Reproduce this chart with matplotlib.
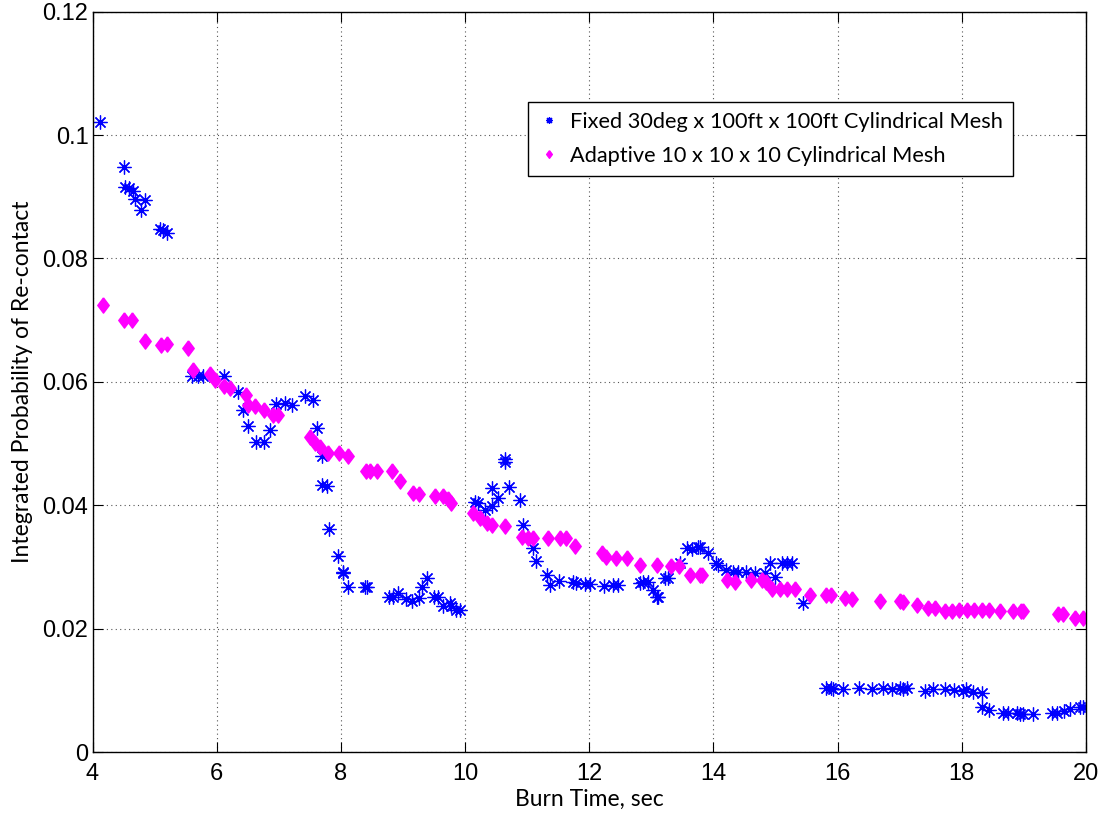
import numpy as np
import matplotlib.pyplot as plt

plt.rcParams['font.family'] = ['Lato', 'DejaVu Sans']

# Fixed 30deg x 100ft x 100ft mesh (blue stars)
fixed_t = [4.12, 4.51, 4.52, 4.59, 4.65, 4.68, 4.85, 4.78, 5.09, 5.13, 5.20,
           5.60, 5.70, 5.78, 6.11, 6.35, 6.42, 6.51, 6.64, 6.76, 6.85, 6.96,
           7.10, 7.21, 7.42, 7.55, 7.62, 7.69, 7.69, 7.77, 7.81, 7.96, 8.03,
           8.03, 8.12, 8.39, 8.42, 8.78, 8.84, 8.92, 9.05, 9.14, 9.25, 9.30,
           9.39, 9.50, 9.57, 9.65, 9.76, 9.78, 9.85, 9.92,
           10.16, 10.21, 10.32, 10.43, 10.44, 10.53, 10.64, 10.65, 10.71, 10.88,
           10.94, 11.10, 11.14, 11.32, 11.37, 11.52, 11.74, 11.79, 11.93, 12.01,
           12.24, 12.39, 12.47, 12.82, 12.87, 12.95, 13.03, 13.09, 13.11, 13.22,
           13.27, 13.46, 13.57, 13.66, 13.75, 13.79, 13.92, 14.04, 14.08, 14.20,
           14.32, 14.40, 14.53, 14.67, 14.83, 14.91, 14.99, 15.10, 15.18, 15.26,
           15.45, 15.82, 15.90, 15.93, 16.09, 16.35, 16.55, 16.73, 16.87, 17.01,
           17.06, 17.11, 17.41, 17.54, 17.73, 17.87, 18.02, 18.07, 18.18, 18.32,
           18.32, 18.43, 18.67, 18.75, 18.89, 18.94, 18.99, 19.15, 19.45, 19.53,
           19.64, 19.74, 19.90, 19.95]
fixed_p = [0.1021, 0.0949, 0.0916, 0.0914, 0.0910, 0.0897, 0.0895, 0.0878, 0.0847, 0.0846, 0.0842,
           0.0609, 0.0609, 0.0610, 0.0610, 0.0583, 0.0555, 0.0529, 0.0502, 0.0503, 0.0522, 0.0564,
           0.0565, 0.0563, 0.0577, 0.0571, 0.0525, 0.0479, 0.0433, 0.0431, 0.0362, 0.0317, 0.0292,
           0.0290, 0.0267, 0.0267, 0.0267, 0.0252, 0.0252, 0.0258, 0.0248, 0.0244, 0.0249, 0.0268,
           0.0282, 0.0251, 0.0251, 0.0236, 0.0242, 0.0236, 0.0230, 0.0230,
           0.0406, 0.0403, 0.0393, 0.0398, 0.0428, 0.0411, 0.0475, 0.0470, 0.0429, 0.0408,
           0.0368, 0.0330, 0.0309, 0.0287, 0.0271, 0.0278, 0.0275, 0.0274, 0.0273, 0.0273,
           0.0269, 0.0271, 0.0271, 0.0274, 0.0276, 0.0276, 0.0263, 0.0252, 0.0252, 0.0282,
           0.0282, 0.0306, 0.0330, 0.0329, 0.0333, 0.0333, 0.0323, 0.0306, 0.0303, 0.0295,
           0.0292, 0.0292, 0.0291, 0.0290, 0.0290, 0.0306, 0.0284, 0.0306, 0.0306, 0.0306,
           0.0241, 0.0103, 0.0103, 0.0102, 0.0102, 0.0103, 0.0102, 0.0103, 0.0102, 0.0103,
           0.0102, 0.0103, 0.0099, 0.0102, 0.0102, 0.0101, 0.0099, 0.0102, 0.0098, 0.0096,
           0.0073, 0.0068, 0.0064, 0.0063, 0.0063, 0.0061, 0.0062, 0.0062, 0.0063, 0.0064,
           0.0067, 0.0070, 0.0073, 0.0073]

# Adaptive 10 x 10 x 10 mesh (magenta diamonds)
adapt_t = [4.17, 4.50, 4.63, 4.85, 5.11, 5.20, 5.54, 5.62, 5.89, 5.97, 6.11, 6.21,
           6.47, 6.51, 6.62, 6.76, 6.91, 6.99, 7.50, 7.58, 7.67, 7.80, 7.97, 8.12,
           8.40, 8.47, 8.58, 8.83, 8.95, 9.16, 9.26, 9.52, 9.65, 9.73, 9.78,
           10.13, 10.24, 10.35, 10.43, 10.64, 10.91, 11.02, 11.10, 11.34, 11.53, 11.62,
           11.77, 12.20, 12.27, 12.43, 12.60, 12.82, 13.09, 13.31, 13.45, 13.63, 13.78,
           13.82, 14.22, 14.35, 14.60, 14.78, 14.84, 14.94, 15.07, 15.18, 15.31, 15.55,
           15.82, 15.90, 16.12, 16.23, 16.68, 17.01, 17.06, 17.27, 17.46, 17.57, 17.73,
           17.84, 17.95, 18.08, 18.19, 18.32, 18.43, 18.61, 18.83, 18.96, 18.99,
           19.55, 19.63, 19.82, 19.95]
adapt_p = [0.0724, 0.0700, 0.0700, 0.0666, 0.0660, 0.0661, 0.0655, 0.0620, 0.0612, 0.0603, 0.0593, 0.0590,
           0.0579, 0.0563, 0.0561, 0.0554, 0.0547, 0.0546, 0.0510, 0.0501, 0.0495, 0.0485, 0.0485, 0.0480,
           0.0455, 0.0455, 0.0455, 0.0456, 0.0440, 0.0420, 0.0418, 0.0415, 0.0415, 0.0410, 0.0404,
           0.0387, 0.0379, 0.0371, 0.0368, 0.0367, 0.0349, 0.0347, 0.0347, 0.0347, 0.0347, 0.0347,
           0.0334, 0.0322, 0.0316, 0.0314, 0.0314, 0.0303, 0.0303, 0.0301, 0.0301, 0.0287, 0.0287,
           0.0287, 0.0279, 0.0276, 0.0279, 0.0279, 0.0275, 0.0265, 0.0264, 0.0265, 0.0265, 0.0255,
           0.0255, 0.0255, 0.0249, 0.0248, 0.0245, 0.0244, 0.0243, 0.0238, 0.0233, 0.0233, 0.0229,
           0.0229, 0.0230, 0.0230, 0.0230, 0.0230, 0.0230, 0.0228, 0.0228, 0.0228, 0.0228,
           0.0224, 0.0224, 0.0218, 0.0218]

xticks = [4, 6, 8, 10, 12, 14, 16, 18, 20]
xtick_labels = ['4', '6', '8', '10', '12', '14', '16', '18', '20']
yticks = [0, 0.02, 0.04, 0.06, 0.08, 0.1, 0.12]
ytick_labels = ['0', '0.02', '0.04', '0.06', '0.08', '0.1', '0.12']

# MATLAB-style markers
star = (8, 2, 0)
diamond = [(0, 1), (0.75, 0), (0, -1), (-0.75, 0), (0, 1)]

fig = plt.figure(figsize=(11.03, 8.16), dpi=100)
ax = fig.add_axes([0.0839, 0.0784, 0.9007, 0.9073])

ax.plot(fixed_t, fixed_p, linestyle='none', marker=star, markersize=10,
        markeredgewidth=0.9, color='#0000ff',
        label='Fixed 30deg x 100ft x 100ft Cylindrical Mesh')
ax.plot(adapt_t, adapt_p, linestyle='none', marker=diamond, markersize=11,
        color='#ff00ff', markeredgecolor='#ff00ff',
        label='Adaptive 10 x 10 x 10 Cylindrical Mesh')

ax.set_xlim(4, 20)
ax.set_ylim(0, 0.12)
tick_font = dict(fontsize=17, family=['Liberation Sans', 'DejaVu Sans'])
ax.set_xticks(xticks, xtick_labels, **tick_font)
ax.set_yticks(yticks, ytick_labels, **tick_font)
ax.tick_params(direction='in', length=7, top=True, right=True)
ax.tick_params(axis='x', pad=8)
ax.tick_params(axis='y', pad=3)
ax.grid(True, linestyle=(0, (1, 3)), color='#555555', linewidth=0.8)
for s in ax.spines.values():
    s.set_linewidth(1)

ax.set_xlabel('Burn Time, sec', fontsize=16.5, labelpad=3)
ax.set_ylabel('Integrated Probability of Re-contact', fontsize=16.5, labelpad=7)

leg = ax.legend(loc='upper right', bbox_to_anchor=(0.9265, 0.878), fontsize=15.7,
                markerscale=0.5, fancybox=False, edgecolor='black', framealpha=1,
                handletextpad=0.5, handlelength=1.0, borderpad=0.45,
                labelspacing=0.65, borderaxespad=0)
leg.get_frame().set_linewidth(1)

fig.savefig('out.png', dpi=100)
